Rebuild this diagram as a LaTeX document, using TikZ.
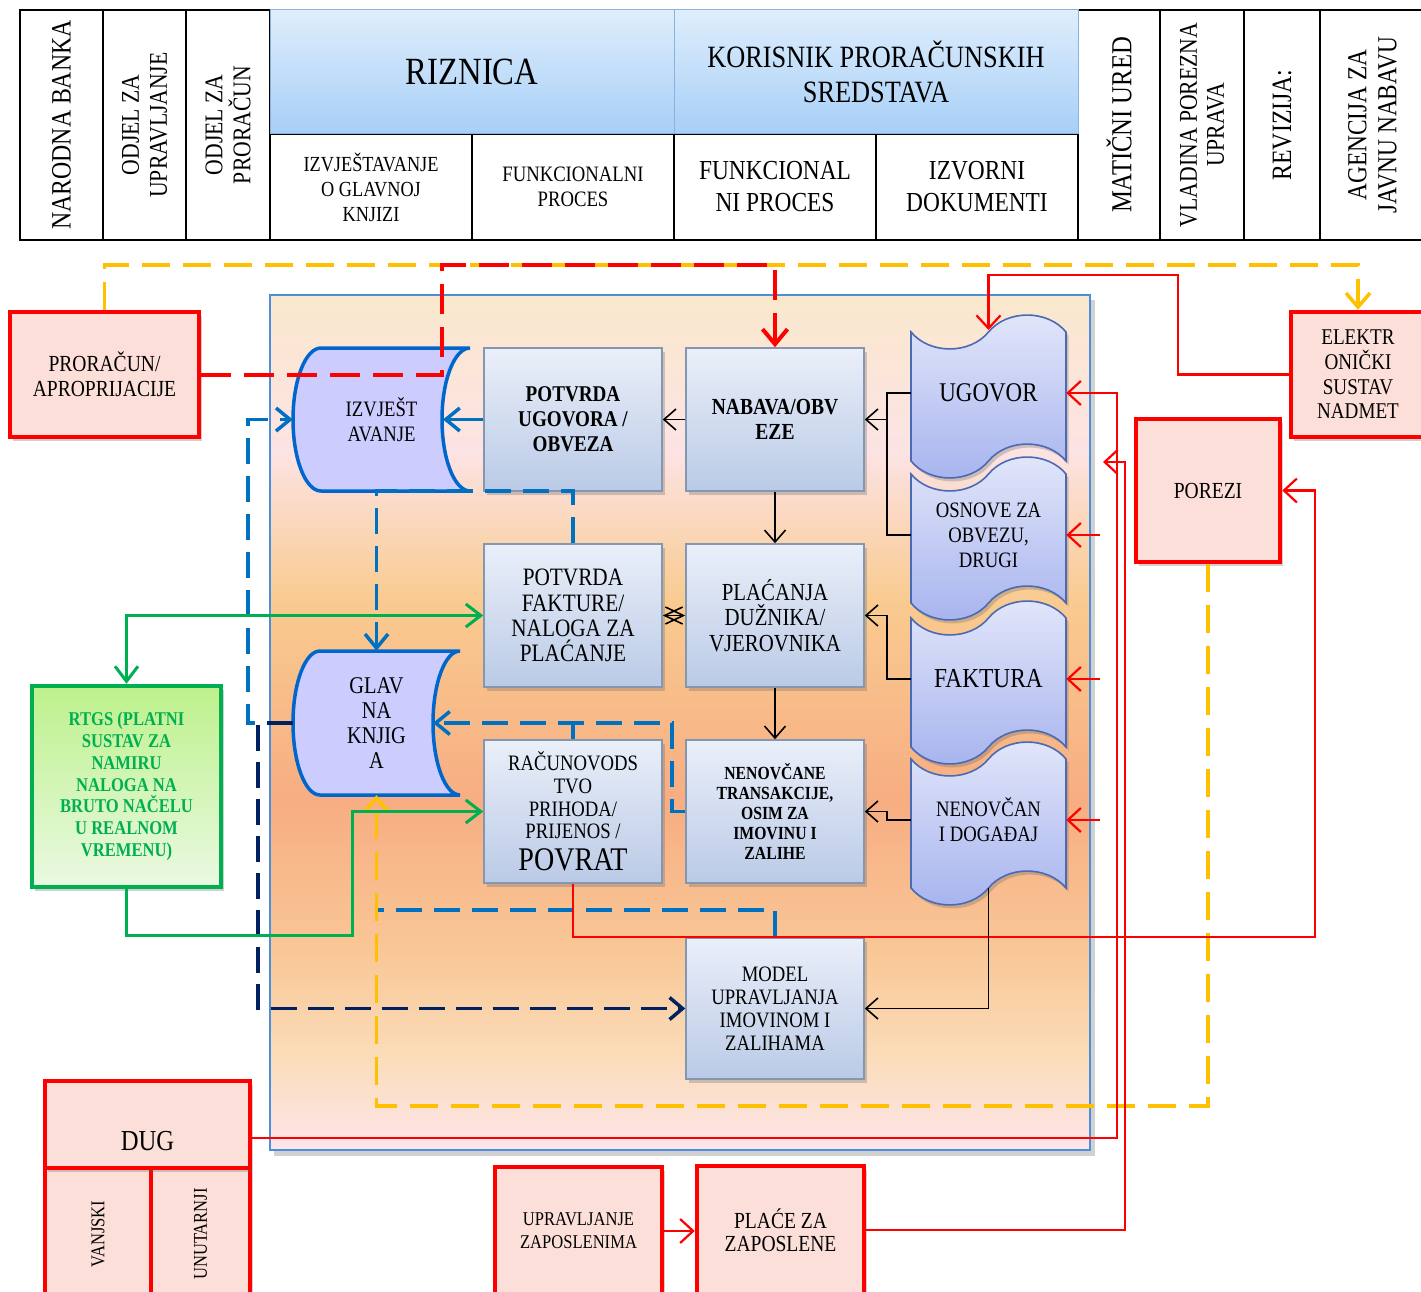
\documentclass[tikz,border=0pt]{standalone}
\usepackage{fontspec}
\setmainfont{Liberation Serif}
\newfontfamily\bodyfont[FakeStretch=0.85]{Liberation Serif}
\usetikzlibrary{arrows.meta,shadows}

\definecolor{redfill}{HTML}{FCDFD8}
\definecolor{orangeline}{HTML}{FFC000}
\definecolor{blueline}{HTML}{0070C0}
\definecolor{navy}{HTML}{002060}
\definecolor{greenline}{HTML}{00B050}
\definecolor{greentop}{HTML}{BDF18C}
\definecolor{greenbot}{HTML}{EAF9E2}
\definecolor{storefill}{HTML}{CCCCFF}
\definecolor{storeline}{HTML}{0066CC}
\definecolor{procline}{HTML}{8497B0}
\definecolor{proctop}{HTML}{EAEFF9}
\definecolor{procbot}{HTML}{BACAE6}
\definecolor{doctop}{HTML}{E3E7FA}
\definecolor{docbot}{HTML}{A6B3EE}
\definecolor{docline}{HTML}{4A6AB4}
\definecolor{headtop}{HTML}{DEEEFC}
\definecolor{headbot}{HTML}{A7CFF7}
\definecolor{headline}{HTML}{8AB2DE}
\definecolor{panelline}{HTML}{4A8FD8}
\definecolor{pcA}{HTML}{FAE8CD}
\definecolor{pcB}{HTML}{FCE3E4}
\definecolor{pcC}{HTML}{F9CB90}
\definecolor{pcD}{HTML}{F7AD82}
\definecolor{pcE}{HTML}{F9C796}
\definecolor{pcF}{HTML}{FBDDBB}
\definecolor{pcG}{HTML}{FDE5EA}

\newcommand\fsz[2]{\fontsize{#1}{#2}\selectfont}

% punched-tape document outline; #1,#2 = left x and top y of its corners
\newcommand\tapedoc[2]{%
  \begin{scope}[shift={(#1,#2)}]
    \path[doc] (0,0) .. controls (18.6,22.6) and (58.9,22.6) .. (77.5,0)
      .. controls (96.1,-22.6) and (136.4,-22.6) .. (155,0) -- (155,129)
      .. controls (136.4,106.4) and (96.1,106.4) .. (77.5,129)
      .. controls (58.9,151.6) and (18.6,151.6) .. (0,129) -- cycle;
  \end{scope}}

\begin{document}
\begin{tikzpicture}[x=1pt,y=-1pt,font=\bodyfont,
  boxshadow/.style={drop shadow={opacity=0.3,fill=black!60,shadow xshift=2.5pt,shadow yshift=-3.5pt}},
  cell/.style={draw=black,line width=1.3pt,inner sep=0pt,align=center},
  vcell/.style={cell,rotate=90},
  headcell/.style={draw=headline,line width=1pt,top color=headtop,bottom color=headbot,inner sep=0pt,align=center},
  proc/.style={draw=procline,line width=1.5pt,top color=proctop,bottom color=procbot,inner sep=1pt,align=center,minimum width=178pt,minimum height=143pt,boxshadow},
  redbox/.style={draw=red,line width=4.5pt,fill=redfill,inner sep=0pt,align=center,boxshadow},
  store/.style={draw=storeline,line width=3.5pt,fill=storefill},
  doc/.style={draw=docline,line width=1.6pt,top color=doctop,bottom color=docbot,boxshadow},
  txt/.style={inner sep=0pt,align=center},
  redflow/.style={draw=red,line width=2.2pt},
  reddash/.style={draw=red,line width=4pt,dash pattern=on 30pt off 13pt},
  orangedash/.style={draw=orangeline,line width=3.5pt,dash pattern=on 28pt off 13pt},
  bluedash/.style={draw=blueline,line width=3.5pt,dash pattern=on 26pt off 12pt},
  navydash/.style={draw=navy,line width=3.5pt,dash pattern=on 26pt off 11pt},
  greenflow/.style={draw=greenline,line width=3pt},
  blackflow/.style={draw=black,line width=1.6pt},
  tipR/.style={-{Straight Barb[length=13pt,width=24pt]}},
  tipRD/.style={-{Straight Barb[length=15pt,width=25pt]}},
  tipO/.style={-{Straight Barb[length=14pt,width=24pt]}},
  tipB/.style={-{Straight Barb[length=14pt,width=23pt]}},
  tipN/.style={-{Straight Barb[length=13pt,width=22pt]}},
  tipG/.style={-{Straight Barb[length=15pt,width=23pt]}},
  tipGG/.style={{Straight Barb[length=15pt,width=23pt]}-{Straight Barb[length=15pt,width=23pt]}},
  tipK/.style={-{Straight Barb[length=12pt,width=21pt]}},
  tipKK/.style={{Straight Barb[length=18pt,width=17pt]}-{Straight Barb[length=18pt,width=17pt]}}
]
\useasboundingbox (0,0) rectangle (1421,1292);
\fill[white] (0,0) rectangle (1421,1292);

% ---------- header table ----------
\node[vcell,minimum width=230pt,minimum height=83pt,font={\bodyfont\fsz{28}{30}}] (nb) at (61.5,125) {NARODNA BANKA};
\node[vcell,minimum width=230pt,minimum height=83pt,font={\bodyfont\fsz{25.5}{28}}] (ou) at (144.5,125) {ODJEL ZA\\UPRAVLJANJE};
\node[vcell,minimum width=230pt,minimum height=84pt,font={\bodyfont\fsz{25.5}{28}}] (op) at (228,125) {ODJEL ZA\\PRORAČUN};
\node[vcell,minimum width=230pt,minimum height=82pt,font={\bodyfont\fsz{29}{30}}] (mu) at (1119,125) {MATIČNI URED};
\node[vcell,minimum width=230pt,minimum height=84pt,font={\bodyfont\fsz{25.5}{27}}] (vpu) at (1202,125) {VLADINA POREZNA\\UPRAVA};
\node[vcell,minimum width=230pt,minimum height=76pt,font={\bodyfont\fsz{28}{30}}] (rev) at (1282,125) {REVIZIJA:};
\node[vcell,minimum width=230pt,minimum height=105pt,font={\bodyfont\fsz{27.5}{30}}] (ajn) at (1372.5,125) {AGENCIJA ZA\\JAVNU NABAVU};

\node[cell,minimum width=202pt,minimum height=106pt,font={\bodyfont\fsz{21.5}{25}}] (izgk) at (371,187) {IZVJEŠTAVANJE\\O GLAVNOJ\\KNJIZI};
\node[cell,minimum width=202pt,minimum height=106pt,font={\bodyfont\fsz{22}{25}}] (fp1) at (573,187) {FUNKCIONALNI\\PROCES};
\node[cell,minimum width=202pt,minimum height=106pt,font={\bodyfont\fsz{27.5}{32}}] (fp2) at (775,187) {FUNKCIONAL\\NI PROCES};
\node[cell,minimum width=202pt,minimum height=106pt,font={\bodyfont\fsz{27.5}{32}}] (izd) at (977,187) {IZVORNI\\DOKUMENTI};

\node[headcell,minimum width=404pt,minimum height=124pt,font={\bodyfont\fsz{38.5}{40}}] (riz) at (472,72) {RIZNICA};
\node[headcell,minimum width=404pt,minimum height=124pt,font={\bodyfont\fsz{31}{35}}] (kor) at (876,72) {KORISNIK PRORAČUNSKIH\\SREDSTAVA};

% ---------- main panel ----------
\fill[black,opacity=0.18] (274,300) rectangle (1095,1156);
\shade[top color=pcA,bottom color=pcB] (270,295) rectangle (1090,451);
\shade[top color=pcB,bottom color=pcC] (270,450) rectangle (1090,601);
\shade[top color=pcC,bottom color=pcD] (270,600) rectangle (1090,801);
\shade[top color=pcD,bottom color=pcE] (270,800) rectangle (1090,951);
\shade[top color=pcE,bottom color=pcF] (270,950) rectangle (1090,1061);
\shade[top color=pcF,bottom color=pcG] (270,1060) rectangle (1090,1150);
\draw[panelline,line width=2pt] (270,295) rectangle (1090,1150);

% ---------- stored-data symbols ----------
\path[store] (321,348) -- (470,348) arc[start angle=270,end angle=90,x radius=28,y radius=71.5]
  -- (321,491) arc[start angle=90,end angle=270,x radius=28,y radius=71.5] -- cycle;
\node[txt,minimum width=177pt,minimum height=143pt,font={\bodyfont\fsz{22}{25}}] (izv) at (381.5,419.5) {IZVJEŠT\\AVANJE};
\path[store] (320,651) -- (460,651) arc[start angle=270,end angle=90,x radius=27,y radius=72]
  -- (320,795) arc[start angle=90,end angle=270,x radius=27,y radius=72] -- cycle;
\node[txt,minimum width=167pt,minimum height=144pt,font={\bodyfont\fsz{24}{25}}] (glavna) at (376.5,723) {GLAV\\NA\\KNJIG\\A};
\coordinate (izvIn) at (443,419.5);
\coordinate (glavnaIn) at (433,723);

% ---------- process boxes ----------
\node[proc,font={\bodyfont\bfseries\fsz{22.5}{25}}] (potU) at (573,419.5) {POTVRDA\\UGOVORA /\\OBVEZA};
\node[proc,font={\bodyfont\bfseries\fsz{23}{25}}] (nab) at (775,419.5) {NABAVA/OBV\\EZE};
\node[proc,font={\bodyfont\fsz{25}{25.3}}] (potF) at (573,615.5) {POTVRDA\\FAKTURE/\\NALOGA ZA\\PLAĆANJE};
\node[proc,font={\bodyfont\fsz{24.5}{25.5}}] (plac) at (775,615.5) {PLAĆANJA\\DUŽNIKA/\\VJEROVNIKA};
\node[proc,font={\bodyfont\fsz{22}{22.7}}] (racun) at (573,811.5) {RAČUNOVODS\\TVO\\PRIHODA/\\PRIJENOS /\\[9pt]{\fsz{33}{28}POVRAT}};
\node[proc,font={\bodyfont\bfseries\fsz{18.5}{20}}] (nenT) at (775,811.5) {NENOVČANE\\TRANSAKCIJE,\\OSIM ZA\\IMOVINU I\\ZALIHE};
\node[proc,minimum height=141pt,font={\bodyfont\fsz{22}{23}}] (model) at (775,1008.5) {MODEL\\UPRAVLJANJA\\IMOVINOM I\\ZALIHAMA};

% ---------- source documents ----------
\tapedoc{911}{332}
\node[txt,minimum width=155pt,minimum height=129pt,font={\bodyfont\fsz{27}{28}}] (ugovor) at (988.5,393) {UGOVOR};
\tapedoc{911}{474}
\node[txt,minimum width=155pt,minimum height=129pt,font={\bodyfont\fsz{22}{25}}] (osnove) at (988.5,535) {OSNOVE ZA\\OBVEZU,\\DRUGI};
\tapedoc{911}{618}
\node[txt,minimum width=155pt,minimum height=129pt,font={\bodyfont\fsz{27.5}{28}}] (faktura) at (988.5,679) {FAKTURA};
\tapedoc{911}{759}
\node[txt,minimum width=155pt,minimum height=129pt,font={\bodyfont\fsz{22}{25}}] (nenD) at (988.5,820) {NENOVČAN\\I DOGAĐAJ};
\coordinate (ugTop) at (988.5,330);
\coordinate (nenDbot) at (988.5,888);

% ---------- outside parties ----------
\node[redbox,minimum width=189pt,minimum height=125pt,font={\bodyfont\fsz{23}{25}}] (pror) at (104.5,374.5) {PRORAČUN/\\APROPRIJACIJE};
\node[redbox,minimum width=134pt,minimum height=125pt,font={\bodyfont\fsz{22.5}{24.7}}] (elek) at (1358,374.5) {ELEKTR\\ONIČKI\\SUSTAV\\NADMET};
\node[redbox,minimum width=144pt,minimum height=143pt,font={\bodyfont\fsz{23}{25}}] (porez) at (1208,490.5) {POREZI};
\node[draw=greenline,line width=4.5pt,top color=greentop,bottom color=greenbot,boxshadow,inner sep=0pt,align=center,
  minimum width=189pt,minimum height=201pt,text=greenline,font={\bodyfont\bfseries\fsz{19.5}{21.8}}] (rtgs) at (126.5,786.5)
  {RTGS (PLATNI\\SUSTAV ZA\\NAMIRU\\NALOGA NA\\BRUTO NAČELU\\U REALNOM\\VREMENU)};
\node[redbox,rotate=90,minimum width=132pt,minimum height=106pt,font={\bodyfont\fsz{19.5}{22}}] (vanj) at (98,1234) {VANJSKI};
\node[redbox,rotate=90,minimum width=132pt,minimum height=99pt,font={\bodyfont\fsz{19.5}{22}}] (unut) at (200.5,1234) {UNUTARNJI};
\node[redbox,minimum width=205pt,minimum height=87pt,text height=51pt,text depth=0pt,font={\bodyfont\fsz{29}{30}}] (dug) at (147.5,1124.5) {DUG};
\node[redbox,minimum width=167pt,minimum height=128pt,font={\bodyfont\fsz{19.5}{23}}] (uprZ) at (578.5,1231) {UPRAVLJANJE\\ZAPOSLENIMA};
\node[redbox,minimum width=167pt,minimum height=128pt,font={\bodyfont\fsz{23}{23}}] (place) at (780.5,1230) {PLAĆE ZA\\ZAPOSLENE};

% ---------- connector bends ----------
\coordinate (topLine) at (0,265);
\coordinate (rdBend) at (442,265);
\coordinate (ekBend) at (1178,275);
\coordinate (dugBend) at (1117,393);
\coordinate (plBend) at (1125,462);
\coordinate (plEnd) at (1103,462);
\coordinate (osIn) at (1100,535);
\coordinate (fkIn) at (1100,679);
\coordinate (ndIn) at (1100,820);
\coordinate (rvBend) at (1315,937);
\coordinate (orBend) at (376.5,1106);
\coordinate (blBend) at (376.5,491);
\coordinate (izBend) at (248,419.5);
\coordinate (nvBend) at (258,1008.5);
\coordinate (gkBend) at (672,723);
\coordinate (mdBend) at (376.5,910);
\coordinate (gnBend) at (352,935);
\coordinate (docJoin) at (887,535);

% blue dashed ledger postings
\draw[bluedash,tipB] (potF.north) |- (blBend) -- (glavna.north);
\draw[bluedash,tipB] (glavna.west) -| (izBend) -- (izv.west);
\draw[bluedash,tipB] (nenT.west) -| (gkBend) -- (glavnaIn);
\draw[bluedash] (racun.north) -- (racun.north |- gkBend);
\draw[bluedash] (model.north) |- (mdBend);
\draw[blueline,line width=3.5pt,tipB] (potU.west) -- (izvIn);
\draw[navydash,tipN] (glavna.west) -| (nvBend) -- (model.west);

% yellow dashed lines
\draw[orangedash,tipO] (pror.north) -- (pror.north |- topLine) -- (elek.north |- topLine) -- (elek.north);
\draw[orangedash,tipO] (porez.south) |- (orBend) -- (glavna.south);

% red flows
\draw[reddash,tipRD] (pror.east) -| (rdBend) -| (nab.north);
\draw[redflow,tipR] (elek.west) -| (ekBend) -| (ugTop);
\draw[redflow,tipR] ([yshift=-13.5pt]dug.east) -| (dugBend) -- (ugovor.east);
\draw[redflow,tipR] (place.east) -| (plBend) -- (plEnd);
\draw[redflow,tipR] (osIn) -- (osnove.east);
\draw[redflow,tipR] (fkIn) -- (faktura.east);
\draw[redflow,tipR] (ndIn) -- (nenD.east);
\draw[redflow,tipR] (racun.south) |- (rvBend) |- (porez.east);
\draw[redflow,tipR] (uprZ.east) -- (place.west |- uprZ.east);

% green payment flows
\draw[greenflow,tipGG] (rtgs.north) |- (potF.west);
\draw[greenflow,tipG] (rtgs.south) |- (gnBend) |- (racun.west);

% black document flows
\draw[blackflow,tipK] (nab.west) -- (potU.east);
\draw[blackflow] (ugovor.west) -| (docJoin) -- (osnove.west);
\draw[blackflow,tipK] (nab.east -| docJoin) -- (nab.east);
\draw[blackflow,tipK] (nab.south) -- (plac.north);
\draw[blackflow,tipK] (faktura.west) -| (plac.east -| docJoin) -- (plac.east);
\draw[blackflow,tipK] (plac.south) -- (nenT.north);
\draw[blackflow,tipK] (nenD.west) -| (nenT.east -| docJoin) -- (nenT.east);
\draw[blackflow,tipK] (nenDbot) |- (model.east);
\draw[blackflow,tipKK] (potF.east) -- (plac.west);
\end{tikzpicture}
\end{document}
